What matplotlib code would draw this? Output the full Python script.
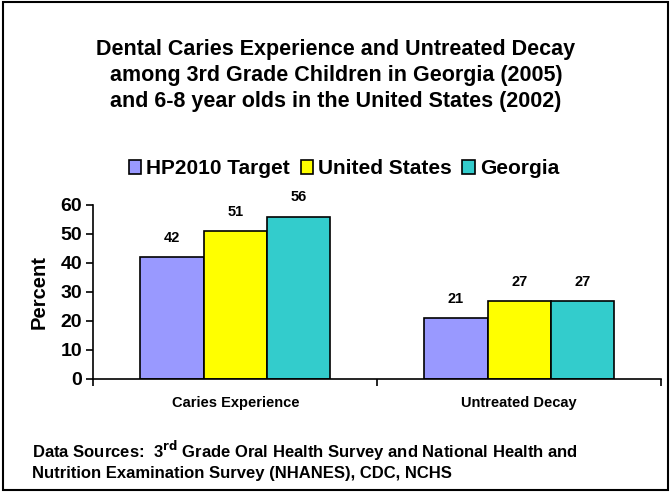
import matplotlib.pyplot as plt
import numpy as np

plt.rcParams['font.family'] = ['Liberation Sans', 'DejaVu Sans']

# data
categories = ['Caries Experience', 'Untreated Decay']
series_names = ['HP2010 Target', 'United States', 'Georgia']
series_values = [[42, 21], [51, 27], [56, 27]]
colors = ['#9999FF', '#FFFF00', '#33CCCC']

fig = plt.figure(figsize=(6.72, 4.92), dpi=100)
ax = fig.add_axes([0.139, 0.2297, 0.845, 0.3537])

x = np.arange(len(categories))
width = 0.223
for i, (name, vals) in enumerate(zip(series_names, series_values)):
    pos = x + (i - 1) * width
    bars = ax.bar(pos, vals, width, color=colors[i], edgecolor='black',
                  linewidth=1.2, label=name)
    for b, v in zip(bars, vals):
        ax.text(b.get_x() + b.get_width() / 2, v + 6.6, str(v),
                ha='center', va='center', fontsize=10.5, fontweight='bold')

ax.set_xlim(-0.5, 1.5)
ax.set_ylim(0, 60)
ax.set_yticks(range(0, 61, 10))
ax.tick_params(axis='y', labelsize=14, width=1.2, length=5, direction='out', pad=3)
for lbl in ax.get_yticklabels():
    lbl.set_fontweight('bold')
ax.set_xticks([-0.5, 0.5, 1.5])
ax.set_xticklabels([])
ax.tick_params(axis='x', length=5, width=1.2, direction='out')
for xi, c in zip(x, categories):
    ax.text(xi, -0.138, c, transform=ax.get_xaxis_transform(), ha='center',
            va='center', fontsize=10.5, fontweight='bold')
ax.set_ylabel('Percent', fontsize=14.5, fontweight='bold', labelpad=9)

ax.spines['top'].set_visible(False)
ax.spines['right'].set_visible(False)
ax.spines['left'].set_linewidth(1.2)
ax.spines['bottom'].set_linewidth(1.2)

fig.text(0.5, 0.846, 'Dental Caries Experience and Untreated Decay\n'
         'among 3rd Grade Children in Georgia (2005)\n'
         'and 6-8 year olds in the United States (2002)',
         ha='center', va='center', fontsize=15.5, fontweight='bold',
         linespacing=1.3)

fig.legend(loc='center', bbox_to_anchor=(0.512, 0.657), ncol=3, frameon=False,
           prop={'size': 15, 'weight': 'bold'}, handlelength=0.6,
           handleheight=0.6, handletextpad=0.25, columnspacing=0.5)

fig.text(0.048, 0.065, r'Data Sources:  3$^{\mathbf{rd}}$ Grade Oral Health Survey and National Health and'
         '\nNutrition Examination Survey (NHANES), CDC, NCHS',
         ha='left', va='center', fontsize=12, fontweight='bold', linespacing=1.2)

fig.patches.append(plt.Rectangle((0.004, 0.004), 0.99, 0.992, transform=fig.transFigure,
                                 fill=False, edgecolor='black', linewidth=1.5))

fig.savefig('out.png', dpi=100)
